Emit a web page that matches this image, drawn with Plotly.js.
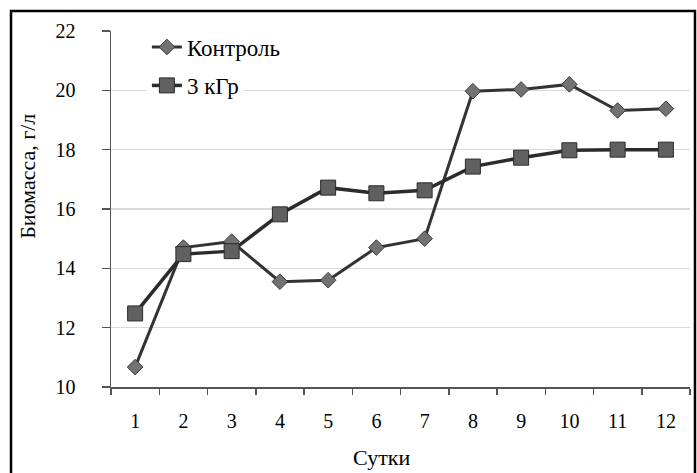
<!DOCTYPE html>
<html><head><meta charset="utf-8">
<script src="https://cdn.plot.ly/plotly-3.0.1.min.js"></script>
<style>html,body{margin:0;padding:0;background:#fff}#chart{width:697px;height:473px}</style>
</head><body><div id="chart"></div>
<script>
var days = ['1','2','3','4','5','6','7','8','9','10','11','12'];
var control = [10.67, 14.7, 14.9, 13.55, 13.6, 14.7, 15.0, 19.97, 20.03, 20.2, 19.32, 19.38];
var dose3 = [12.48, 14.48, 14.58, 15.82, 16.72, 16.53, 16.63, 17.43, 17.73, 17.98, 18.0, 18.0];
var names = ['Контроль', '3 кГр'];
var xTitle = 'Сутки';
var yTitle = 'Биомасса, г/л';
var font = 'Liberation Serif';

var traces = [
  {x: days, y: control, name: names[0], type: 'scatter', mode: 'lines+markers', legend: 'legend',
   line: {color: '#333333', width: 3},
   marker: {symbol: 'diamond', size: 12, color: '#727272', line: {color: '#3a3a3a', width: 1}}},
  {x: days, y: dose3, name: names[1], type: 'scatter', mode: 'lines+markers', legend: 'legend2',
   line: {color: '#2b2b2b', width: 3.5},
   marker: {symbol: 'square', size: 15, color: '#606060', line: {color: '#2b2b2b', width: 1}}}
];

var legFont = {family: font, size: 23, color: '#000'};
var tickFont = {family: font, size: 20, color: '#000'};
var titleFont = {family: font, size: 22, color: '#000'};
var layout = {
  width: 697, height: 473,
  margin: {l: 111, r: 7, t: 31, b: 86},
  paper_bgcolor: '#ffffff', plot_bgcolor: '#ffffff',
  font: {family: font, size: 20, color: '#000'},
  showlegend: true,
  legend: {x: 0.062, y: 0.955, xanchor: 'left', yanchor: 'middle', bgcolor: '#ffffff',
           font: legFont, borderwidth: 0},
  legend2: {x: 0.062, y: 0.847, xanchor: 'left', yanchor: 'middle', bgcolor: '#ffffff',
           font: legFont, borderwidth: 0},
  xaxis: {type: 'category', range: [-0.5, 11.5], showgrid: false, zeroline: false,
          showline: true, linecolor: '#555', linewidth: 1.5,
          ticks: 'outside', tickson: 'boundaries', ticklen: 6, tickcolor: '#555', tickwidth: 1.5,
          ticklabelstandoff: 15, tickfont: tickFont},
  yaxis: {range: [10, 22], dtick: 2, showgrid: true, gridcolor: '#d9d9d9', gridwidth: 1.5,
          zeroline: false, showline: true, linecolor: '#555', linewidth: 1.5,
          ticks: 'outside', ticklen: 8, tickcolor: '#555', tickwidth: 1.5,
          ticklabelstandoff: 22, tickfont: tickFont},
  annotations: [
    {text: xTitle, xref: 'paper', yref: 'paper', x: 0.468, y: -0.199, xanchor: 'center', yanchor: 'middle',
     showarrow: false, font: titleFont},
    {text: yTitle, xref: 'paper', yref: 'paper', x: -0.1434, y: 0.593, xanchor: 'center', yanchor: 'middle',
     textangle: -90, showarrow: false, font: titleFont}
  ],
  shapes: [
    {type: 'rect', xref: 'paper', yref: 'paper', x0: -0.1727, x1: 1.0086, y0: -0.4, y1: 1.0562,
     line: {color: '#000', width: 2.5}, fillcolor: 'rgba(0,0,0,0)', layer: 'below'}
  ]
};
Plotly.newPlot('chart', traces, layout, {displayModeBar: false, staticPlot: true});
</script></body></html>
